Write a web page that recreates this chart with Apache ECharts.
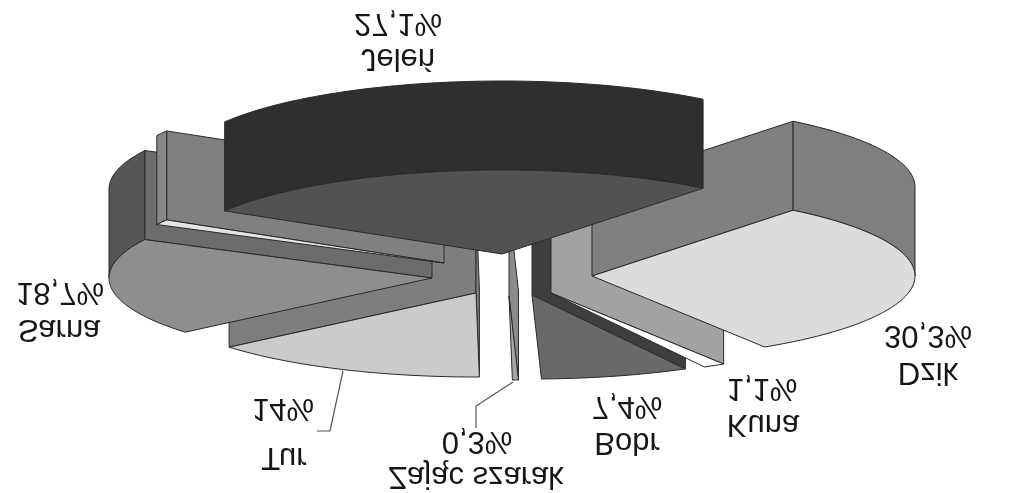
<!DOCTYPE html>
<html>
<head>
<meta charset="utf-8">
<style>html,body{margin:0;padding:0;background:#fff}#c{width:1023px;height:493px}</style>
<script src="https://cdn.jsdelivr.net/npm/echarts@6/dist/echarts.min.js"></script>
</head>
<body>
<div id="c"></div>
<script>
// Data
const names = ['Dzik','Kuna','Bobr','Zając szarak','Tur','Sarna','','Jeleń'];
const values = [30.3,1.1,7.4,0.3,14,18.7,1.0,27.1];
const percentLabels = ['30,3%','1,1%','7,4%','0,3%','14%','18,7%','','27,1%'];

// Styling and layout of the exploded, squashed pie
const startAngle = -51.5, rx = 323, ry = 84, depth = 89;
const apex = [[592,276],[551,293],[532,295],[509,296],[476,293],[432,278],[444,263],[502,254]];
const faceColors = ['#dcdcdc','#ffffff','#696969','#a6a6a6','#cbcbcb','#8e8e8e','#e4e4e4','#525252'];
const radialWallColors = ['#808080','#a2a2a2','#3e3e3e','#8c8c8c','#7e7e7e','#6c6c6c','#808080','#2c2c2c'];
const outerWallColors = ['#7f7f7f','#a2a2a2','#3e3e3e','#8c8c8c','#7e7e7e','#565656','#888888','#2f2f2f'];
const drawOrder = [6,5,4,3,2,7,8,9]; // Dzik,Kuna,Bobr,Zajac,Tur,Sarna,hidden,Jelen
const namePos = [[928,372],[763,424],[627,442],[476,476],[284,457],[59,329],null,[398,58]];
const pctPos = [[928,335],[762,388],[627,406],[477,441],[283,408],[60,292],null,[398,23]];
const leaders = {3:[[513,382],[476,406],[476,428]],4:[[343,371],[330,431],[317,431]]};

const sum = values.reduce((a,b)=>a+b,0);
function angles(i){
  let a = startAngle;
  for(let k=0;k<i;k++) a += values[k]/sum*360;
  return [a, a + values[i]/sum*360];
}
function pt(c,deg,dy){
  const t = deg*Math.PI/180;
  return [c[0]+rx*Math.cos(t), c[1]+ry*Math.sin(t)-(dy||0)];
}
function arc(c,a,b,dy){
  const out=[], n=Math.max(2,Math.ceil((b-a)/2));
  for(let j=0;j<=n;j++) out.push(pt(c,a+(b-a)*j/n,dy));
  return out;
}
const stroke = {stroke:'#2a2a2a',lineWidth:1,lineJoin:'round'};
const cosd = d=>Math.cos(d*Math.PI/180);

function renderItem(params, api){
  const i = params.dataIndex, c = apex[i];
  const [a,b] = angles(i);
  const z = drawOrder[i]*10;
  const poly = (points,fill,dz)=>({type:'polygon',z2:z+dz,shape:{points},style:Object.assign({fill},stroke)});
  const kids = [];
  const top = [c[0],c[1]-depth];
  if(cosd(b)<0) kids.push(poly([c,pt(c,b),pt(c,b,depth),top],radialWallColors[i],0));
  if(cosd(a)>0) kids.push(poly([c,pt(c,a),pt(c,a,depth),top],radialWallColors[i],1));
  // outer rim: only the stretches of the arc on the upper half of the ellipse are seen
  [[-180,0],[180,360]].forEach(r=>{
    const s=Math.max(a,r[0]), e=Math.min(b,r[1]);
    if(e>s){
      kids.push(poly(arc(c,s,e,0).concat(arc(c,s,e,depth).reverse()),outerWallColors[i],2));
    }
  });
  kids.push(poly([c].concat(arc(c,a,b,0)),faceColors[i],3));
  if(leaders[i]) kids.push({type:'polyline',z2:200,shape:{points:leaders[i]},style:{fill:'none',stroke:'#555',lineWidth:1.2}});
  if(names[i]){
    const txt=(s,p)=>({type:'text',z2:210,x:p[0],y:p[1],scaleY:-1,
      style:{text:s,x:0,y:0,fill:'#161616',font:'31px "Liberation Sans", Arial, sans-serif',align:'center',verticalAlign:'middle'}});
    kids.push(txt(names[i],namePos[i]));
    kids.push(txt(percentLabels[i],pctPos[i]));
  }
  return {type:'group',children:kids};
}

const chart = echarts.init(document.getElementById('c'),null,{renderer:'canvas'});
chart.setOption({
  backgroundColor:'#ffffff',
  animation:false,
  series:[{
    type:'custom',
    coordinateSystem:'none',
    silent:true,
    clip:false,
    renderItem,
    data:values.map((v,i)=>({name:names[i],value:[v]}))
  }]
});
</script>
</body>
</html>
